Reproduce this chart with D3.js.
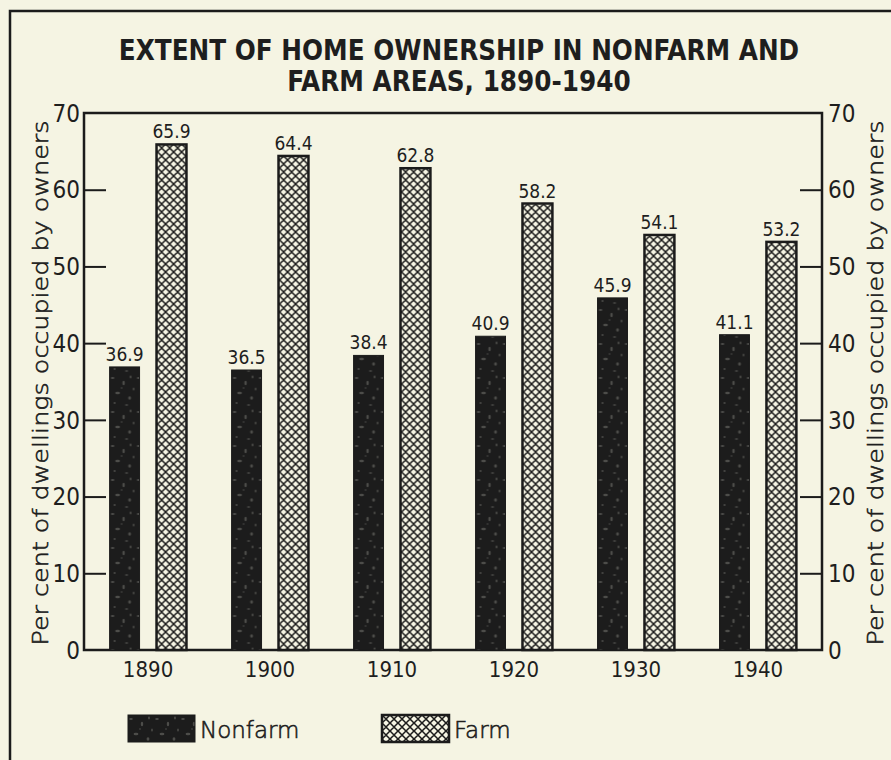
<!DOCTYPE html>
<html>
<head>
<meta charset="utf-8">
<script src="https://cdn.jsdelivr.net/npm/d3@7"></script>
<style>
  html, body { margin: 0; padding: 0; background: #f5f4e3; }
  svg { display: block; }
  .lbl { font-family: "DejaVu Sans Condensed", "Liberation Sans Narrow", sans-serif; fill: #1e1e1e; }
  .thin { font-family: "DejaVu Sans", sans-serif; font-weight: 200; fill: #1e1e1e; stroke: #1e1e1e; stroke-width: 0.6px; }
</style>
</head>
<body>
<svg id="chart" width="891" height="760"></svg>
<script>
// Census years and owner-occupancy shares (per cent)
const years = ["1890", "1900", "1910", "1920", "1930", "1940"];
const nonfarm = [36.9, 36.5, 38.4, 40.9, 45.9, 41.1];
const farm = [65.9, 64.4, 62.8, 58.2, 54.1, 53.2];
const seriesNames = ["Nonfarm", "Farm"];
const yTicks = [0, 10, 20, 30, 40, 50, 60, 70];
const titleLines = ["EXTENT OF HOME OWNERSHIP IN NONFARM AND", "FARM AREAS, 1890-1940"];
const axisTitle = "Per cent of dwellings occupied by owners";

const ink = "#1b1b1b";
const svg = d3.select("#chart");
const W = 891, H = 760;
const plot = { left: 84, right: 822, top: 113, bottom: 650 };

svg.append("rect").attr("width", W).attr("height", H).attr("fill", "#f5f4e3");

// fills: mottled solid for nonfarm, crosshatch for farm
const defs = svg.append("defs");
const speck = defs.append("pattern").attr("id", "speckle")
  .attr("patternUnits", "userSpaceOnUse").attr("width", 26).attr("height", 34);
speck.append("rect").attr("width", 26).attr("height", 34).attr("fill", "#1c1c1c");
[[3,4,1.8,1.0],[14,9,1.2,2.2],[8,19,2.4,1.2],[20,24,1.4,1.8],[5,29,1.0,0.9],[21,3,0.9,1.4],[12,14,0.8,0.8],[17,31,1.6,0.8],[24,15,0.8,1.6]]
  .forEach(([cx, cy, rx, ry]) => speck.append("ellipse")
    .attr("cx", cx).attr("cy", cy).attr("rx", rx).attr("ry", ry).attr("fill", "#4d4d4a"));

const hatch = defs.append("pattern").attr("id", "hatch")
  .attr("patternUnits", "userSpaceOnUse").attr("width", 8).attr("height", 8);
hatch.append("rect").attr("width", 8).attr("height", 8).attr("fill", "#f5f4e3");
hatch.append("path").attr("d", "M-1,-1L9,9M-1,9L9,-1M-5,3L5,13M3,-5L13,5M3,13L13,3M-5,5L5,-5")
  .attr("stroke", ink).attr("stroke-width", 1.5);

// outer frame
svg.append("rect").attr("x", 10).attr("y", 11).attr("width", 900).attr("height", 800)
  .attr("fill", "none").attr("stroke", ink).attr("stroke-width", 2.5);

// title
svg.append("g").selectAll("text").data(titleLines).join("text")
  .attr("class", "lbl")
  .attr("x", 459).attr("y", (d, i) => 60 + i * 31)
  .attr("text-anchor", "middle")
  .attr("font-weight", "bold").attr("font-size", 27.5)
  .text(d => d);

// scales
const y = d3.scaleLinear().domain([0, 70]).range([plot.bottom, plot.top]);
const x0 = d3.scaleBand().domain(years).range([plot.left, plot.right])
  .paddingInner(0.37).paddingOuter(0.21);
const x1 = d3.scaleBand().domain(seriesNames).range([0, x0.bandwidth()])
  .paddingInner(0.362);

// plot frame
svg.append("rect").attr("x", plot.left).attr("y", plot.top)
  .attr("width", plot.right - plot.left).attr("height", plot.bottom - plot.top)
  .attr("fill", "none").attr("stroke", ink).attr("stroke-width", 2.5);

// left and right axes with inward ticks
const leftAxis = d3.axisLeft(y).tickValues(yTicks).tickSize(-22).tickPadding(6);
const rightAxis = d3.axisRight(y).tickValues(yTicks).tickSize(-22).tickPadding(6);
const gl = svg.append("g").attr("transform", `translate(${plot.left},0)`).call(leftAxis);
const gr = svg.append("g").attr("transform", `translate(${plot.right},0)`).call(rightAxis);
[gl, gr].forEach(g => {
  g.select(".domain").remove();
  g.selectAll(".tick line").attr("stroke", ink).attr("stroke-width", 2)
    .attr("display", d => (d === 0 || d === 70) ? "none" : null);
  g.selectAll(".tick text").attr("class", "lbl").attr("font-size", 24)
    .attr("fill", ink).attr("dy", "0.34em");
});
gl.selectAll(".tick text").attr("x", -4);
gr.selectAll(".tick text").attr("x", 6);

// bars
const rows = years.map((yr, i) => ({ year: yr, vals: [
  { key: "Nonfarm", value: nonfarm[i] }, { key: "Farm", value: farm[i] }] }));
const groups = svg.append("g").selectAll("g").data(rows).join("g")
  .attr("transform", d => `translate(${x0(d.year)},0)`);
groups.selectAll("rect").data(d => d.vals).join("rect")
  .attr("x", d => x1(d.key))
  .attr("y", d => y(d.value))
  .attr("width", x1.bandwidth())
  .attr("height", d => y(0) - y(d.value))
  .attr("fill", d => d.key === "Nonfarm" ? "url(#speckle)" : "url(#hatch)")
  .attr("stroke", ink).attr("stroke-width", d => d.key === "Nonfarm" ? 1 : 2.5);
groups.selectAll("text").data(d => d.vals).join("text")
  .attr("class", "lbl")
  .attr("x", d => x1(d.key) + x1.bandwidth() / 2)
  .attr("y", d => y(d.value) - 6)
  .attr("text-anchor", "middle").attr("font-size", 19)
  .text(d => d.value.toFixed(1));

// year labels
svg.append("g").selectAll("text").data(years).join("text")
  .attr("class", "lbl")
  .attr("x", d => x0(d) + x0.bandwidth() / 2)
  .attr("y", 677)
  .attr("text-anchor", "middle").attr("font-size", 22)
  .text(d => d);

// axis titles on both sides
[40, 875].forEach(cx => {
  svg.append("text").attr("class", "thin")
    .attr("transform", `translate(${cx},383) rotate(-90)`)
    .attr("text-anchor", "middle").attr("dy", "0.35em")
    .attr("font-size", 22)
    .attr("textLength", 525).attr("lengthAdjust", "spacingAndGlyphs")
    .text(axisTitle);
});

// legend
const legend = [
  { name: "Nonfarm", x: 128, fill: "url(#speckle)", sw: 1 },
  { name: "Farm", x: 382, fill: "url(#hatch)", sw: 2.5 }
];
const lg = svg.append("g").selectAll("g").data(legend).join("g")
  .attr("transform", d => `translate(${d.x},715)`);
lg.append("rect").attr("width", 67).attr("height", 27)
  .attr("fill", d => d.fill).attr("stroke", ink).attr("stroke-width", d => d.sw);
lg.append("text").attr("class", "thin").attr("x", 72).attr("y", 23)
  .attr("font-size", 23).text(d => d.name);
</script>
</body>
</html>
